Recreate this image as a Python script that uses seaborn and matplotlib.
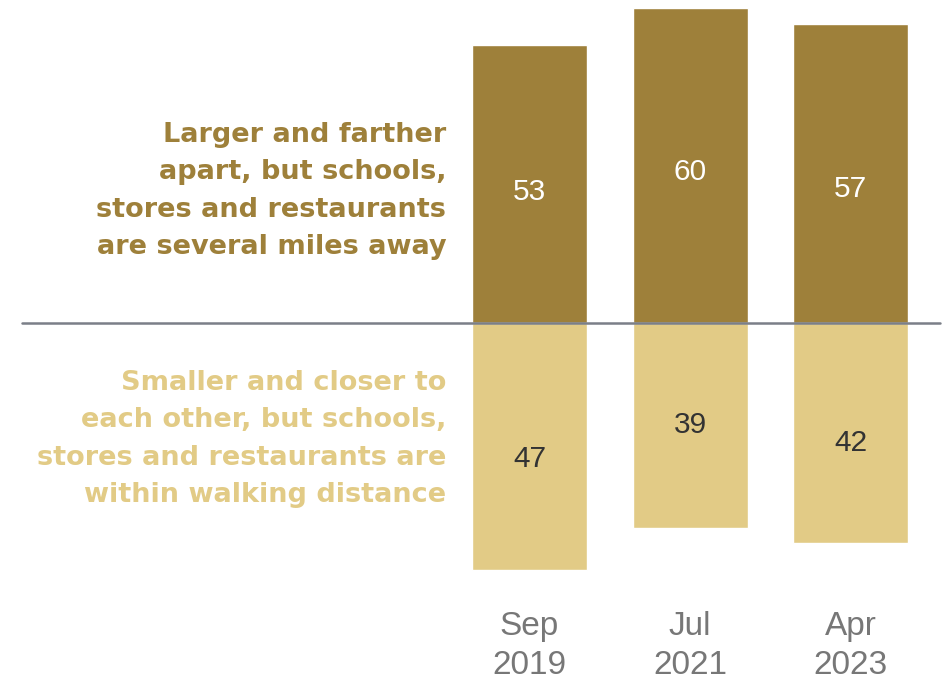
import matplotlib
matplotlib.use("Agg")
import matplotlib.pyplot as plt
import matplotlib.transforms as mtransforms
import seaborn as sns
import pandas as pd

# ---- data ----
dates = ["Sep\n2019", "Jul\n2021", "Apr\n2023"]
farther = [53, 60, 57]
closer = [47, 39, 42]
label_far = "Larger and farther\napart, but schools,\nstores and restaurants\nare several miles away"
label_close = "Smaller and closer to\neach other, but schools,\nstores and restaurants are\nwithin walking distance"

DARK = "#9E803A"
LIGHT = "#E2CB86"

sns.set_theme(style="white")
plt.rcParams["font.family"] = ["Liberation Sans", "DejaVu Sans"]

W, H = 946, 685
fig = plt.figure(figsize=(W / 100, H / 100), dpi=100)
bottom_px = 590
ax = fig.add_axes([0, (H - bottom_px) / H, 1, bottom_px / H])

df = pd.DataFrame({"date": dates, "far": farther, "close": [-c for c in closer]})
bw = 115 / 160.5
sns.barplot(data=df, x="date", y="far", color=DARK, width=bw, saturation=1, ax=ax)
sns.barplot(data=df, x="date", y="close", color=LIGHT, width=bw, saturation=1, ax=ax)

pxu = 5.245  # px per unit
base = 323
ax.set_ylim(-(bottom_px - base) / pxu, base / pxu)
ax.set_xlim(-529.5 / 160.5, (W - 529.5) / 160.5)

# baseline
ax.axhline(0, xmin=22 / W, xmax=940 / W, color="#7B7F88", lw=1.8, zorder=5)

# value labels
top_y = [25.0, 28.8, 25.5]
bot_y = [-25.9, -19.4, -22.9]
for i, (f, c) in enumerate(zip(farther, closer)):
    ax.text(i, top_y[i], f"{f}", ha="center", va="center", color="white", fontsize=21.5)
    ax.text(i, bot_y[i], f"{c}", ha="center", va="center", color="#333333", fontsize=21.5)

# side labels
tr = mtransforms.blended_transform_factory(ax.transAxes, ax.transData)
side_font = dict(family=["DejaVu Sans"], fontsize=19.5, fontweight="bold", linespacing=1.56)
ax.text(446 / W, (base - 191) / pxu, label_far, transform=tr, ha="right", va="center",
        color=DARK, **side_font)
ax.text(446 / W, -(439 - base) / pxu, label_close, transform=tr, ha="right", va="center",
        color=LIGHT, **side_font)

ax.set_xlabel("")
ax.set_ylabel("")
ax.set_yticks([])
ax.tick_params(axis="x", length=0, pad=15, labelsize=24, labelcolor="#777777")
for lab in ax.get_xticklabels():
    lab.set_linespacing(1.36)
sns.despine(ax=ax, left=True, bottom=True)

fig.savefig("out.png", dpi=100, facecolor="white")
